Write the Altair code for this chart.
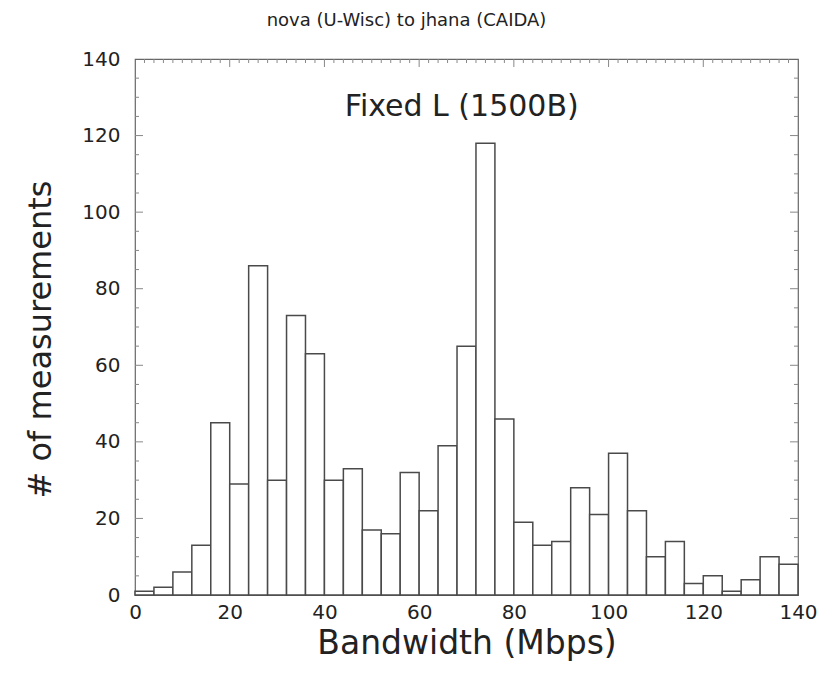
import altair as alt
import pandas as pd

# Histogram of bandwidth estimates, 4 Mbps bins from 0 to 140 Mbps
bin_width = 4
bin_start = list(range(0, 140, bin_width))
counts = [1, 2, 6, 13, 45, 29, 86, 30, 73, 63,
          30, 33, 17, 16, 32, 22, 39, 65, 118, 46,
          19, 13, 14, 28, 21, 37, 22, 10, 14, 3,
          5, 1, 4, 10, 8]

x_ticks = [0, 20, 40, 60, 80, 100, 120, 140]
y_ticks = [0, 20, 40, 60, 80, 100, 120, 140]

chart_title = "nova (U-Wisc) to jhana (CAIDA)"
panel_label = "Fixed L (1500B)"
x_title = "Bandwidth (Mbps)"
y_title = "# of measurements"

FONT = "DejaVu Sans"
W, H = 663, 536

hist = pd.DataFrame({
    "start": bin_start,
    "end": [s + bin_width for s in bin_start],
    "count": counts,
})

x_scale = alt.Scale(domain=[0, 140], nice=False, zero=False)
y_scale = alt.Scale(domain=[0, 140], nice=False)

x_axis = alt.Axis(values=x_ticks, ticks=False, domain=False, grid=False,
                  labelFont=FONT, labelFontSize=20, labelColor="#222",
                  labelPadding=7, labelFlush=False,
                  title=x_title, titleFont=FONT, titleFontSize=33,
                  titleFontWeight="normal", titleColor="#222", titlePadding=5)
y_axis = alt.Axis(values=y_ticks, ticks=False, domain=False, grid=False,
                  labelFont=FONT, labelFontSize=20, labelColor="#222",
                  labelPadding=15, labelFlush=False,
                  title=y_title, titleFont=FONT, titleFontSize=32,
                  titleFontWeight="normal", titleColor="#222", titlePadding=24,
                  titleY=H / 2 + 12)

bars = alt.Chart(hist).mark_rect(
    fill="white", stroke="#4a4a4a", strokeWidth=1.5
).encode(
    x=alt.X("start:Q", scale=x_scale, axis=x_axis),
    x2="end:Q",
    y=alt.Y("count:Q", scale=y_scale, axis=y_axis),
    y2=alt.datum(0),
)

# Inward frame ticks: every 5 counts on the sides, every 2 Mbps top/bottom
side_minor = pd.DataFrame({"v": [v for v in range(5, 140, 5) if v % 20]})
side_major = pd.DataFrame({"v": [v for v in y_ticks if 0 < v < 140]})
edge_minor = pd.DataFrame({"v": [v for v in range(2, 140, 2) if v % 20]})
edge_major = pd.DataFrame({"v": [v for v in x_ticks if 0 < v < 140]})

tick_style = dict(color="#888", strokeWidth=1)


def side_ticks(df, length):
    left = alt.Chart(df).mark_rule(**tick_style).encode(
        y=alt.Y("v:Q", scale=y_scale), x=alt.value(0), x2=alt.value(length))
    right = alt.Chart(df).mark_rule(**tick_style).encode(
        y=alt.Y("v:Q", scale=y_scale), x=alt.value(W - length), x2=alt.value(W))
    return left + right


def edge_ticks(df, length):
    top = alt.Chart(df).mark_rule(**tick_style).encode(
        x=alt.X("v:Q", scale=x_scale), y=alt.value(0), y2=alt.value(length))
    bottom = alt.Chart(df).mark_rule(**tick_style).encode(
        x=alt.X("v:Q", scale=x_scale), y=alt.value(H - length), y2=alt.value(H))
    return top + bottom


label = alt.Chart(pd.DataFrame({"x": [69], "y": [125], "t": [panel_label]})).mark_text(
    font=FONT, fontSize=30, color="#222", align="center", baseline="alphabetic"
).encode(
    x=alt.X("x:Q", scale=x_scale),
    y=alt.Y("y:Q", scale=y_scale),
    text="t:N",
)

chart = alt.layer(
    side_ticks(side_minor, 4), side_ticks(side_major, 8),
    edge_ticks(edge_minor, 4), edge_ticks(edge_major, 8),
    bars, label,
).properties(
    width=W,
    height=H,
    title=alt.TitleParams(chart_title, font=FONT, fontSize=18, fontWeight="normal",
                          color="#222", anchor="middle", dx=-60, offset=19),
    autosize=alt.AutoSizeParams(type="none"),
    padding={"left": 135, "top": 59, "right": 24, "bottom": 78},
    background="white",
).configure_view(stroke="#666", strokeWidth=1.2)

chart.save("out.html", embed_options={"renderer": "svg", "actions": False})
